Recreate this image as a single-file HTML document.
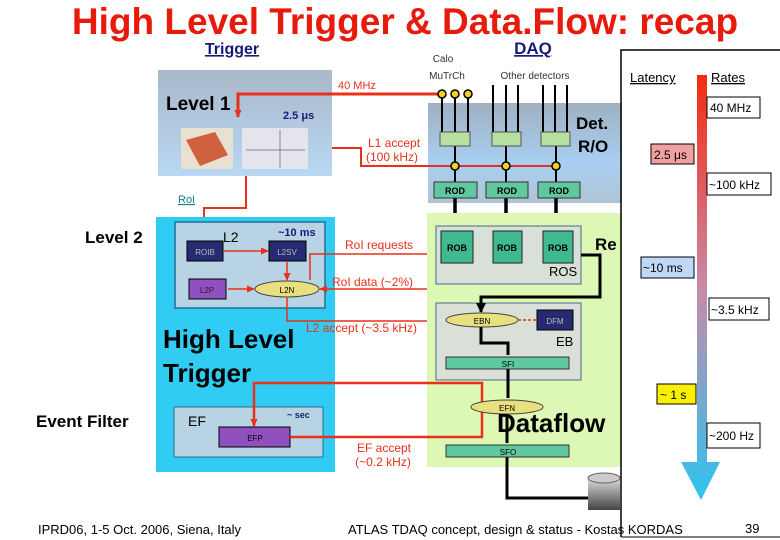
<!DOCTYPE html>
<html><head><meta charset="utf-8"><style>
body{margin:0;background:#fff}
svg{display:block;font-family:"Liberation Sans",sans-serif}
</style></head><body>
<svg width="780" height="540" viewBox="0 0 780 540" xmlns="http://www.w3.org/2000/svg">
<defs>
<linearGradient id="l1" x1="0" y1="0" x2="0" y2="1"><stop offset="0" stop-color="#a9b8c9"/><stop offset="1" stop-color="#b9d8f4"/></linearGradient>
<linearGradient id="dro" x1="0" y1="0" x2="0" y2="1"><stop offset="0" stop-color="#9fb0c0"/><stop offset="0.6" stop-color="#a8cff2"/><stop offset="1" stop-color="#b0c4d6"/></linearGradient>
<linearGradient id="arr" x1="0" y1="0" x2="0" y2="1"><stop offset="0" stop-color="#f52a10"/><stop offset="0.5" stop-color="#c88aa8"/><stop offset="1" stop-color="#2cc4f0"/></linearGradient>
<linearGradient id="disk" x1="0" y1="0" x2="0" y2="1"><stop offset="0" stop-color="#ddd"/><stop offset="1" stop-color="#444"/></linearGradient>
<marker id="ar" markerUnits="userSpaceOnUse" markerWidth="8" markerHeight="8" refX="7" refY="4" orient="auto"><path d="M0,0.5L8,4L0,7.5z" fill="#e8301a"/></marker>
<marker id="ak" markerUnits="userSpaceOnUse" markerWidth="10" markerHeight="10" refX="9" refY="5" orient="auto"><path d="M0,0L10,5L0,10z" fill="#000"/></marker>
</defs>
<text x="405" y="34" font-size="37" font-weight="bold" fill="#e81a0c" text-anchor="middle">High Level Trigger &amp; Data.Flow: recap</text>
<text x="232" y="54" font-size="16" font-weight="bold" fill="#1a1a7a" text-anchor="middle" text-decoration="underline">Trigger</text>
<text x="533" y="54" font-size="17" font-weight="bold" fill="#1a1a7a" text-anchor="middle" text-decoration="underline">DAQ</text>

<rect x="158" y="70" width="174" height="106" fill="url(#l1)"/>
<text x="166" y="110" font-size="19" font-weight="bold">Level 1</text>
<text x="283" y="119" font-size="11" font-weight="bold" fill="#1a1a7a">2.5 μs</text>
<rect x="181" y="128" width="52" height="41" fill="#e8e0d0"/><path d="M186,140 L215,132 L228,155 L200,166 Z" fill="#d06040"/>
<rect x="242" y="128" width="66" height="41" fill="#e4e4ec"/><path d="M246,150 L305,150 M280,130 L280,168" stroke="#888"/>
<path d="M442,94 H238 V117" stroke="#e8301a" stroke-width="3" fill="none" marker-end="url(#ar)"/>
<text x="338" y="89" font-size="11" fill="#e8301a">40 MHz</text>

<rect x="428" y="103" width="194" height="100" fill="url(#dro)"/>
<text x="443" y="62" font-size="10" fill="#333" text-anchor="middle">Calo</text>
<text x="447" y="79" font-size="10" fill="#333" text-anchor="middle">MuTrCh</text>
<text x="535" y="79" font-size="10" fill="#333" text-anchor="middle">Other detectors</text>
<text x="576" y="129" font-size="17" font-weight="bold">Det.</text>
<text x="578" y="152" font-size="17" font-weight="bold">R/O</text>
<g stroke="#000" stroke-width="2">
<path d="M442,94V133M455,94V133M468,94V133M493,85V133M506,85V133M518,85V133M543,85V133M555,85V133M567,85V133"/>
<path d="M455,146V182M506,146V182M556,146V182"/>
</g>
<g stroke="#000" stroke-width="3.5">
<path d="M455,198V229M506,198V229M556,198V229" marker-end="url(#ak)"/>
</g>
<g fill="#f4d020" stroke="#000" stroke-width="1.5"><circle cx="442" cy="94" r="4"/><circle cx="455" cy="94" r="4"/><circle cx="468" cy="94" r="4"/></g>
<g fill="#b8e0a0" stroke="#555"><rect x="440" y="132" width="30" height="14"/><rect x="492" y="132" width="29" height="14"/><rect x="541" y="132" width="29" height="14"/></g>
<path d="M332,148 H361 V166 H552" stroke="#e8301a" stroke-width="2" fill="none"/>
<g fill="#f4d020" stroke="#000" stroke-width="1.5"><circle cx="455" cy="166" r="4"/><circle cx="506" cy="166" r="4"/><circle cx="556" cy="166" r="4"/></g>
<text x="368" y="147" font-size="12" fill="#e8301a">L1 accept</text>
<text x="366" y="161" font-size="12" fill="#e8301a">(100 kHz)</text>
<g fill="#60c8a0" stroke="#333"><rect x="434" y="182" width="43" height="16"/><rect x="486" y="182" width="42" height="16"/><rect x="538" y="182" width="42" height="16"/></g>
<g font-size="9" font-weight="bold" text-anchor="middle"><text x="455" y="194">ROD</text><text x="507" y="194">ROD</text><text x="559" y="194">ROD</text></g>

<text x="178" y="203" font-size="11" fill="#108080" text-decoration="underline">RoI</text>
<path d="M246,176 V208 H204 V241" stroke="#e8301a" stroke-width="2" fill="none" marker-end="url(#ar)"/>

<text x="85" y="243" font-size="17" font-weight="bold">Level 2</text>
<text x="36" y="427" font-size="17" font-weight="bold">Event Filter</text>
<rect x="156" y="217" width="179" height="255" fill="#30ccf4"/>
<rect x="175" y="222" width="150" height="86" fill="#b8d4e4" stroke="#207090" stroke-width="1.5"/>
<text x="223" y="242" font-size="14">L2</text>
<text x="278" y="236" font-size="11" font-weight="bold" fill="#1a1a7a">~10 ms</text>
<rect x="187" y="241" width="36" height="20" fill="#262a70" stroke="#000"/><text x="205" y="255" font-size="8" fill="#bbb" text-anchor="middle">ROIB</text>
<rect x="269" y="241" width="37" height="20" fill="#262a70" stroke="#000"/><text x="287" y="255" font-size="8" fill="#bbb" text-anchor="middle">L2SV</text>
<rect x="189" y="279" width="37" height="20" fill="#9050c0" stroke="#000"/><text x="207" y="293" font-size="8" fill="#222" text-anchor="middle">L2P</text>
<ellipse cx="287" cy="289" rx="32" ry="8" fill="#e8e080" stroke="#444"/><text x="287" y="293" font-size="8" text-anchor="middle">L2N</text>
<g stroke="#e8301a" stroke-width="1.5" fill="none">
<path d="M223,251 H268" marker-end="url(#ar)"/>
<path d="M287,261 V280" marker-end="url(#ar)"/>
<path d="M228,289 H254" marker-end="url(#ar)"/>
<path d="M310,280 V254 H436" marker-end="url(#ar)"/>
<path d="M509,284 V289 H320" marker-end="url(#ar)"/>
<path d="M287,297 V321 H446" marker-end="url(#ar)"/>
</g>
<text x="345" y="249" font-size="12" fill="#e8301a">RoI requests</text>
<text x="332" y="286" font-size="12" fill="#e8301a">RoI data (~2%)</text>
<text x="306" y="332" font-size="12" fill="#e8301a">L2 accept (~3.5 kHz)</text>
<text x="163" y="348" font-size="26" font-weight="bold">High Level</text>
<text x="163" y="382" font-size="26" font-weight="bold">Trigger</text>
<rect x="174" y="407" width="149" height="50" fill="#b8d4e4" stroke="#207090"/>
<text x="188" y="426" font-size="14">EF</text>
<text x="287" y="418" font-size="9" font-weight="bold" fill="#1a1a7a">~ sec</text>
<rect x="219" y="427" width="71" height="20" fill="#9050c0" stroke="#000"/><text x="255" y="441" font-size="8" text-anchor="middle">EFP</text>

<rect x="427" y="213" width="195" height="254" fill="#ddf8b4"/>
<rect x="436" y="226" width="145" height="58" fill="#d8e0d8" stroke="#4a6a8a"/>
<g fill="#40b890" stroke="#222"><rect x="441" y="231" width="32" height="32"/><rect x="493" y="231" width="29" height="32"/><rect x="543" y="231" width="30" height="32"/></g>
<g font-size="9" font-weight="bold" text-anchor="middle"><text x="457" y="251">ROB</text><text x="507" y="251">ROB</text><text x="558" y="251">ROB</text></g>
<text x="549" y="276" font-size="13">ROS</text>
<text x="595" y="250" font-size="17" font-weight="bold">Re</text>
<rect x="436" y="303" width="145" height="77" fill="#d8e0d8" stroke="#4a6a8a"/>
<path d="M581,255 H600 V297 H481 V312" stroke="#000" stroke-width="3" fill="none" marker-end="url(#ak)"/>
<ellipse cx="482" cy="320" rx="36" ry="7" fill="#e8e080" stroke="#444"/><text x="482" y="324" font-size="8" text-anchor="middle">EBN</text>
<rect x="537" y="310" width="36" height="20" fill="#262a70" stroke="#000"/><text x="555" y="324" font-size="8" fill="#bbb" text-anchor="middle">DFM</text>
<path d="M518,320 H536" stroke="#e8301a" stroke-width="1.5" stroke-dasharray="3,2"/>
<text x="556" y="346" font-size="13">EB</text>
<path d="M481,327 V343 H508 V355" stroke="#000" stroke-width="3" fill="none"/>
<rect x="446" y="357" width="123" height="12" fill="#60c8a0" stroke="#333"/><text x="508" y="367" font-size="8" text-anchor="middle">SFI</text>
<path d="M508,369 V398" stroke="#000" stroke-width="3"/>
<path d="M507,414 V443" stroke="#000" stroke-width="3"/>
<path d="M507,457 V498 H588" stroke="#000" stroke-width="3" fill="none"/>
<path d="M482,416 V383 H254 V426" stroke="#e8301a" stroke-width="2.5" fill="none" marker-end="url(#ar)"/>
<path d="M290,437 H482 V416" stroke="#e8301a" stroke-width="2.5" fill="none"/>
<ellipse cx="507" cy="407" rx="36" ry="7" fill="#e8e080" stroke="#444"/><text x="507" y="411" font-size="8" text-anchor="middle">EFN</text>
<text x="497" y="432" font-size="26" font-weight="bold">Dataflow</text>
<rect x="446" y="445" width="123" height="12" fill="#60c8a0" stroke="#333"/><text x="508" y="455" font-size="8" text-anchor="middle">SFO</text>
<text x="384" y="452" font-size="12" fill="#e8301a" text-anchor="middle">EF accept</text>
<text x="383" y="466" font-size="12" fill="#e8301a" text-anchor="middle">(~0.2 kHz)</text>
<rect x="588" y="478" width="32" height="32" fill="url(#disk)"/><ellipse cx="604" cy="478" rx="16" ry="5" fill="#ccc" stroke="#666"/>

<path d="M621,537 V50 H780" stroke="#000" stroke-width="1.5" fill="none"/>
<path d="M621,537 H780" stroke="#000"/>
<path d="M697,75 H707 V462 H720 L701,500 L681,462 H697 Z" fill="url(#arr)"/>
<text x="630" y="82" font-size="13" text-decoration="underline">Latency</text>
<text x="711" y="82" font-size="13" text-decoration="underline">Rates</text>
<g stroke="#000">
<rect x="707" y="97" width="53" height="21" fill="#fff"/>
<rect x="651" y="144" width="43" height="20" fill="#f0a0a0"/>
<rect x="707" y="173" width="64" height="22" fill="#fff"/>
<rect x="641" y="257" width="53" height="21" fill="#c0d8f8"/>
<rect x="709" y="298" width="60" height="22" fill="#fff"/>
<rect x="657" y="384" width="39" height="20" fill="#f8f000"/>
<rect x="707" y="423" width="53" height="25" fill="#fff"/>
</g>
<g font-size="12">
<text x="710" y="112">40 MHz</text>
<text x="654" y="159">2.5 μs</text>
<text x="709" y="189">~100 kHz</text>
<text x="643" y="272">~10 ms</text>
<text x="711" y="314">~3.5 kHz</text>
<text x="660" y="399">~ 1 s</text>
<text x="709" y="440">~200 Hz</text>
</g>

<text x="38" y="534" font-size="13">IPRD06, 1-5 Oct. 2006, Siena, Italy</text>
<text x="348" y="534" font-size="13">ATLAS TDAQ concept, design &amp; status - Kostas KORDAS</text>
<text x="745" y="533" font-size="13">39</text>
</svg>
</body></html>
